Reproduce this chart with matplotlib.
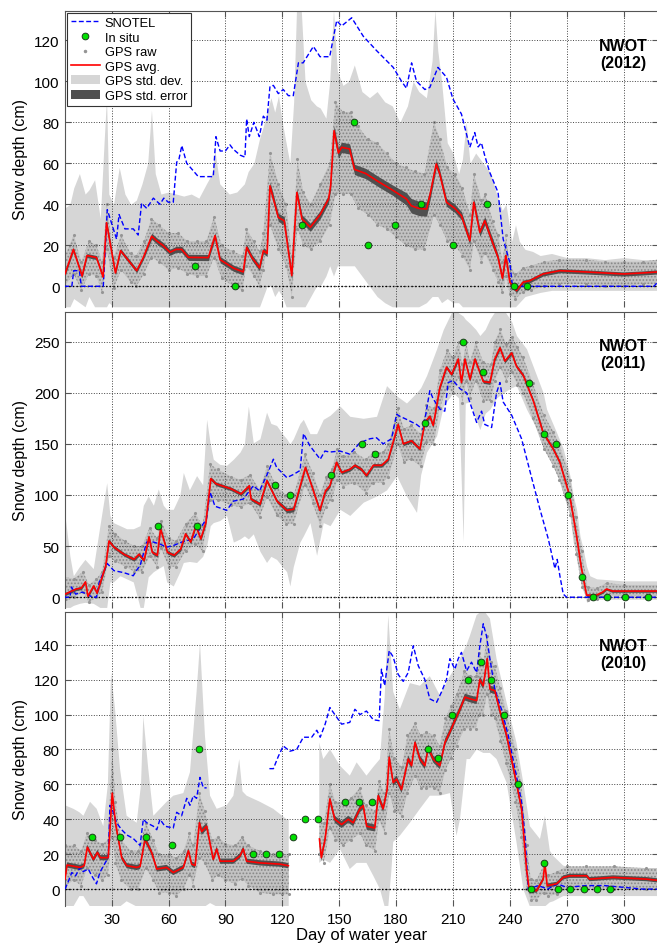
import numpy as np
import matplotlib
matplotlib.use("Agg")
import matplotlib.pyplot as plt
from matplotlib.lines import Line2D
from matplotlib.patches import Patch

nan = np.nan
plt.rcParams['font.family'] = ['Liberation Sans', 'DejaVu Sans']
plt.rcParams['hatch.linewidth'] = 0.8

# ---------------- 2012 ----------------
snotel_12 = [(5, 0), (9, 0), (10, 7.6), (13, 7.6), (14, 0), (25.6, 0), (27.7, 37.4), (32.6, 23), (33.9, 35),
             (37, 28), (41.4, 28), (44, 25), (45.8, 40.5), (48.5, 38), (52, 43), (55.5, 40), (57.5, 43),
             (59.9, 41), (62.5, 41), (64.3, 60.5), (65.5, 62), (67, 68.6), (69.6, 60), (71.5, 58),
             (75.7, 53.5), (83.6, 53.5), (85, 73), (87.2, 66), (90, 66), (92.4, 69), (94, 67), (97.7, 64),
             (100.3, 63), (101.2, 81.6), (102.6, 73), (105, 80), (107.9, 73), (110, 83), (111.9, 81),
             (113.5, 97.5), (115.3, 98), (117.9, 94), (120.5, 96), (123.2, 93), (125.8, 93), (128.5, 109),
             (131, 109), (136.4, 117), (139.9, 112), (145, 112), (148.7, 129.6), (151.3, 127), (156.6, 131),
             (162.7, 122), (169.7, 115), (178.5, 106.8), (182.9, 100), (185.5, 96.6), (188.2, 109),
             (190.8, 100), (195.2, 96), (197.8, 97), (202.1, 106.8), (206.6, 102), (210, 91.4), (214.5, 84),
             (218.9, 67.8), (221.5, 75), (223.3, 68), (225, 70), (226.8, 63.7), (229.4, 55.6), (233.8, 45.8),
             (236.5, 23), (240, 11.7), (241.4, 0), (316, 0), (318, 2)]
avg_12 = [(5.4, 6, 1), (9.8, 18, 1), (14.4, 5, 1), (17, 15, 1), (22, 14, 1), (25.5, 4.5, 1), (27.3, 31, 1.5),
          (32, 6.5, 1), (34.7, 17.4, 1), (43.2, 7.6, 1), (46.7, 14, 1), (51.1, 24.4, 1.5), (54, 22, 1.5),
          (57, 20, 1.5), (60.8, 16.6, 1.5), (64, 18, 1.5), (66.9, 18, 1.5), (70.5, 14.1, 1.5), (81, 14, 1.5),
          (84.5, 24.7, 1.5), (87.2, 13, 1.5), (94.3, 8.8, 1.5), (99.4, 7, 1.5), (101.2, 19, 1.5), (104, 14, 1.5),
          (108, 9, 1.5), (110, 17.4, 1.5), (112, 16, 1.5), (113.5, 49, 2), (117.9, 33.6, 2), (121, 32, 2),
          (125, 5.2, 2), (127.7, 45.8, 2), (130.4, 32.8, 2), (134.8, 28.8, 2), (140, 35, 2),
          (144.4, 42.6, 2), (145.5, 49, 2), (147.3, 75.9, 2.5), (149.6, 65, 2.5), (151.3, 67.8, 2.5),
          (155.5, 67, 2.5), (158.1, 57, 2.5), (164, 55, 2.5), (171.3, 50.7, 2.5), (178, 47, 2.5),
          (185.5, 42.6, 3), (188, 39.3, 3.5), (192, 38, 3.5), (196.1, 37.7, 3.5), (198, 45, 2.5),
          (201.2, 59.7, 2), (203, 55, 2), (206.6, 41, 2), (211, 38, 2), (214.5, 34.4, 2), (218.9, 22.2, 2),
          (221, 41, 2), (224.2, 26.3, 2), (226.8, 32, 2), (231.2, 20.6, 2), (233.8, 14, 1.5), (236.1, 3.9, 1.5),
          (237.9, 15, 1.5), (240, 2, 1.5), (243.5, -2.1, 1), (247, 2, 1), (250.5, 2.7, 1), (257.5, 6, 1),
          (266.3, 7.6, 1), (280, 7, 1), (290, 6.5, 1), (300, 6, 1), (310, 6.5, 1), (318, 7, 1)]
sd_12 = [(5, -10, 38), (8, -10, 40), (10, -6, 48), (13, -8, 55), (16, -10, 45), (18, -5, 47), (21, -10, 52),
         (24, -10, 33), (26, -10, 70), (27.3, -10, 92), (28.5, -8, 45), (31, -10, 40), (34, -10, 58),
         (37, -10, 45), (40, -10, 40), (43, -10, 42), (46, -10, 50), (49, -10, 60), (51, -10, 86), (53, -10, 55),
         (56, -10, 45), (60, -10, 46), (64, -10, 45), (68, -10, 44), (72, -10, 45), (76, -10, 43), (80, -10, 50),
         (83, -10, 55), (84.5, -10, 66), (87, -10, 50), (92, -10, 45), (96, -10, 46), (100, -10, 50),
         (102, -10, 56), (105, -10, 60), (108, -10, 72), (110, -5, 78), (112, 0, 85), (114, 0, 92),
         (116, -5, 85), (118, -2, 93), (120, -5, 80), (122, -10, 70), (124, -10, 60), (126, -10, 90),
         (127.5, -10, 135), (130, -10, 135), (132, -10, 100), (135, -5, 91), (138, 0, 88), (140, 0, 87),
         (143, 5, 82), (145, 10, 100), (147, 5, 135), (149, 10, 105), (152, 10, 98), (155, 10, 100),
         (158, 10, 108), (162, 5, 95), (166, 0, 92), (170, -5, 95), (174, -8, 90), (178, -10, 88),
         (182, -10, 80), (186, -10, 88), (189, -10, 100), (192, -10, 95), (196, -8, 92), (199, -5, 110),
         (200.5, -5, 135), (202, -5, 115), (204, -8, 100), (207, -6, 70), (210, -8, 65), (213, -8, 55),
         (215, -10, 62), (217, -10, 80), (219, -10, 60), (222, -10, 65), (226, -10, 60), (230, -10, 55),
         (233, -10, 45), (236, -10, 37), (238, -10, 40), (241, -10, 22), (243, -10, 30), (245, -8, 22),
         (248, -5, 18), (252, -4, 17), (256, -3, 15), (262, -2, 16), (270, -2, 14), (280, -2, 14),
         (290, -2, 13), (300, -2, 14), (310, -2, 13), (318, -2, 13)]
raw_12 = [(5, 0, 14), (10, 6, 25), (14, -2, 12), (18, 6, 22), (22, 5, 20), (25, -3, 12), (27.5, 18, 40),
          (31, -1, 14), (35, 8, 25), (40, 2, 16), (43, 0, 15), (47, 6, 22), (51, 14, 33), (55, 12, 30),
          (60, 8, 26), (65, 9, 26), (70, 6, 22), (75, 5, 22), (80, 5, 22), (84, 14, 34), (88, 4, 20),
          (94, 0, 17), (99, -2, 15), (101, 10, 28), (105, 5, 22), (108, 0, 17), (110, 8, 26), (113.5, 30, 65),
          (118, 18, 50), (122, 10, 40), (125, -5, 15), (128, 28, 62), (131, 20, 46), (135, 18, 40),
          (140, 22, 50), (145, 30, 60), (148, 45, 90), (152, 45, 85), (156, 45, 85), (160, 38, 78),
          (165, 35, 72), (170, 30, 70), (175, 28, 65), (180, 24, 60), (185, 20, 58), (190, 18, 56),
          (195, 18, 55), (200, 35, 80), (203, 30, 72), (207, 22, 58), (211, 20, 55), (215, 15, 48),
          (219, 8, 35), (221, 22, 55), (225, 12, 42), (227, 16, 45), (231, 8, 32), (234, 2, 25), (236, -3, 12),
          (238, 5, 25), (240, -4, 10), (243, -6, 6), (247, -3, 9), (251, -2, 10), (258, 0, 12), (266, 1, 13),
          (280, 1, 13), (290, 0, 12), (300, 0, 12), (310, 1, 12), (318, 1, 13)]
insitu_12 = [(74, 10), (95.3, 0), (130.4, 30), (158, 80), (165, 20), (179.4, 30), (193, 40), (210.3, 20),
             (228.2, 40), (242, 0), (249, 0)]

# ---------------- 2011 ----------------
snotel_11 = [(5, 0), (8, 0), (8.8, 10), (11, 3), (14.5, 5), (17, 3), (20, 0), (22, 0), (23.5, 15), (27.7, 33),
             (31.2, 26), (36.5, 24), (41.4, 21), (43, 26), (45, 31), (48.5, 54), (52, 54), (55.5, 52), (59, 49),
             (62.5, 50.5), (67, 54), (73, 57), (76.6, 67), (80, 76.6), (81.9, 103), (84.5, 89), (90.7, 85),
             (94.2, 94), (99.4, 96), (104.7, 109), (108, 104), (112, 120), (115.3, 135), (117, 127),
             (122.4, 117), (125.8, 120), (129.4, 124), (131.2, 160), (134.6, 148), (140, 135), (142.5, 143),
             (145, 142), (150.4, 143), (155.6, 140), (160.9, 151), (166.2, 155), (169.7, 156), (173.2, 150),
             (177.6, 155), (180.3, 179), (182, 177), (185.5, 174), (190.8, 169), (194.3, 164), (197.8, 202),
             (199.6, 194), (203.1, 184), (205.7, 182), (207.5, 210), (210.1, 212), (213.7, 204), (217.2, 200),
             (222.5, 171), (225.1, 182), (226.8, 169), (230.4, 166), (233, 200), (234.8, 210), (236.5, 191),
             (241, 178), (246.2, 155), (251.5, 117), (255.9, 86), (260.3, 57), (263.8, 28), (265, 37),
             (266.4, 21), (268.2, 3), (270, 0), (318, 0)]
avg_11 = [(5.4, 3, 1.5), (11.3, 8, 1.5), (14, 9, 1.5), (16.2, 15, 1.5), (17.5, 1, 1.5), (20.5, 11, 1.5),
          (22.3, 4, 1.5), (23.5, 11, 1.5), (26.9, 31, 1.8), (28.6, 55, 1.8), (31.2, 49, 1.8), (36.5, 42, 1.8),
          (41.8, 37, 1.8), (44.4, 42, 1.8), (47.1, 36, 1.8), (49.7, 59, 1.8), (51.4, 44, 1.8), (54.1, 41, 1.8),
          (55.8, 67, 1.8), (59.4, 44, 1.8), (62.9, 41, 1.8), (66.4, 47, 1.8), (69, 62, 1.8), (71.7, 54, 1.8),
          (74.4, 70, 1.8), (77, 57, 1.8), (79.7, 73, 1.8), (82.3, 116, 1.8), (85, 111, 1.8), (93, 106, 1.8),
          (98.2, 101, 1.8), (102.6, 109, 1.8), (103.5, 96, 1.8), (108.3, 91, 1.8), (111.9, 114, 1.8),
          (117.2, 94, 1.8), (122.4, 85, 2.5), (126, 86, 2.5), (132.2, 127, 1.8), (135.7, 108, 1.8),
          (139.8, 85, 1.8), (142.8, 104, 1.8), (145.1, 109, 1.8), (148.6, 132, 1.8), (151.3, 122, 1.8),
          (155.6, 125, 1.8), (158.3, 129, 1.8), (161.8, 125, 1.8), (164.4, 119, 1.8), (168, 129, 1.8),
          (172.4, 129, 1.8), (175.9, 135, 1.8), (181.1, 169, 1.8), (183.8, 150, 1.8), (188.2, 153, 1.8),
          (192.6, 145, 1.8), (195.2, 171, 1.8), (197.8, 177, 1.8), (199.6, 168, 1.8), (203.1, 205, 1.8),
          (206.6, 225, 1.8), (209.3, 218, 1.8), (212.8, 233, 1.8), (214.5, 210, 1.8), (216.3, 233, 1.8),
          (219, 213, 1.8), (221.6, 233, 1.8), (226, 211, 1.8), (229.5, 210, 1.8), (232.1, 233, 1.8),
          (234.8, 244, 1.8), (237.4, 231, 1.8), (241, 239, 1.8), (243.5, 226, 1.8), (247.1, 217, 1.8),
          (252.4, 192, 1.8), (257.6, 161, 1.8), (262.9, 145, 1.8), (266.4, 132, 1.8), (271.7, 98, 1.8),
          (275.2, 60, 1.8), (277.8, 28, 1.5), (280.5, 2, 1.2), (285.7, 2, 1.2), (289, 5, 1.2), (291, 8, 1.2),
          (294, 6, 1.2), (318, 6, 1.2)]
sd_11 = [(5.4, -10, 80), (8, -10, 40), (9.8, -8, 21), (13, -6, 30), (15.9, -5, 37), (20.3, -6, 28),
         (23.8, -10, 70), (27.4, -10, 112), (29.1, 15, 80), (30.9, 15, 73), (34.4, 21, 70), (37.9, 18, 67),
         (41.4, 15, 67), (45, -10, 70), (46.7, -10, 90), (49.3, 20, 99), (52, 25, 90), (54.6, 28, 106),
         (57.2, 31, 90), (59, 15, 86), (62.5, 11, 86), (66, 25, 100), (67.8, 34, 122), (71, 35, 105),
         (74.8, 34, 119), (78, 40, 110), (80.1, 50, 174), (82, 70, 150), (83.6, 73, 135), (87, 75, 130),
         (90.6, 80, 129), (94.2, 54, 135), (97.7, 57, 142), (100, 60, 150), (102.1, 57, 187), (104.7, 62, 151),
         (108.2, 45, 155), (111.7, 34, 181), (114, 40, 170), (117, 37, 168), (120, 30, 160), (122.3, 25, 155),
         (124, 11, 150), (125.8, 30, 155), (129.3, 54, 170), (131.1, 60, 174), (134.6, 73, 160),
         (138.1, 41, 160), (141.6, 73, 174), (145.2, 70, 178), (150.4, 86, 187), (155.6, 80, 177),
         (162.7, 93, 175), (169.7, 99, 177), (175, 105, 207), (180.3, 119, 197), (185.5, 99, 190),
         (190.8, 83, 200), (193, 120, 205), (196.1, 142, 217), (201.4, 158, 243), (204.9, 187, 262),
         (210.1, 200, 282), (213, 195, 278), (215.4, 54, 275), (216.5, 190, 272), (218.9, 191, 268),
         (222, 175, 262), (224.2, 164, 256), (227, 180, 262), (229.5, 184, 272), (233, 195, 282),
         (236.5, 200, 282), (240.9, 205, 270), (243.5, 207, 256), (248.8, 184, 243), (254.1, 165, 217),
         (257.6, 151, 200), (259.4, 145, 184), (264.7, 132, 161), (268.2, 110, 145), (269.9, 93, 132),
         (271.7, 80, 119), (273.4, 54, 100), (275.2, 40, 86), (277, 21, 60), (278.7, 10, 47), (280.5, -5, 30),
         (282.2, -3, 21), (285.8, -2, 18), (300, -2, 16), (318, -2, 16)]
raw_11 = [(5, -5, 20), (10, 0, 18), (15, 5, 25), (18, -5, 12), (22, 0, 18), (25, 5, 25), (28.6, 40, 70),
          (32, 35, 62), (37, 30, 55), (42, 25, 50), (46, 25, 50), (50, 40, 68), (54, 30, 58), (56, 48, 75),
          (60, 30, 58), (64, 30, 55), (69, 45, 72), (74, 52, 82), (78, 45, 70), (82, 95, 130), (86, 95, 125),
          (93, 90, 118), (98, 88, 115), (103, 92, 120), (108, 78, 105), (112, 98, 128), (117, 80, 108),
          (122, 72, 100), (126, 72, 100), (132, 110, 140), (136, 92, 122), (140, 70, 100), (143, 88, 118),
          (146, 95, 125), (149, 115, 145), (152, 108, 138), (158, 112, 142), (164, 102, 135), (168, 112, 142),
          (173, 112, 142), (176, 118, 150), (181, 150, 185), (184, 132, 165), (188, 135, 168), (193, 128, 160),
          (196, 152, 188), (200, 150, 185), (203, 185, 222), (207, 205, 242), (210, 200, 235), (213, 215, 250),
          (215, 190, 228), (217, 212, 250), (219, 195, 230), (222, 212, 250), (226, 192, 230), (230, 192, 228),
          (232, 212, 250), (235, 225, 262), (238, 212, 248), (241, 220, 255), (244, 208, 245), (247, 200, 235),
          (252, 175, 210), (258, 145, 178), (263, 128, 162), (266, 115, 150), (272, 80, 115), (275, 42, 78),
          (278, 10, 45), (281, -3, 10), (286, -2, 9), (291, 2, 14), (300, 1, 12), (318, 1, 12)]
insitu_11 = [(54.3, 70), (75.2, 70), (116.1, 110), (124, 100), (145.5, 120), (162.2, 150), (168.8, 140),
             (195.2, 170), (215.1, 250), (226, 220), (250, 210), (258.1, 160), (264.1, 150), (270.8, 100),
             (278.2, 20), (284, 0), (291, 0), (300.9, 0), (313, 0)]

# ---------------- 2010 ----------------
snotel_10 = [(5.4, 0), (7, 4), (9, 9.5), (11, 7.6), (13.3, 12.4), (15, 10), (17.7, 11.5), (19.5, 7.6), (22, 3),
             (23.8, 9.5), (25.5, 13), (28.2, 18), (29.1, 48), (30.9, 44), (32.6, 38), (35.3, 34), (38, 31),
             (41.4, 29), (45, 25), (46.7, 40), (48.5, 38), (52, 36), (53.8, 34), (55.5, 40), (58.1, 36),
             (62.5, 35), (64.3, 44), (66.9, 42), (69.6, 52), (71.3, 48), (73.1, 53.5), (74.8, 52), (76.6, 64),
             (78.4, 58), (80.1, 58), (96, nan), (113.2, 69), (115.3, 69), (117.9, 76), (120.5, 82), (124, 79),
             (127.6, 80), (131.1, 87), (135.5, 87), (138.2, 91), (140, 87), (142.6, 94.5), (145.1, 104),
             (147.7, 100), (151.3, 94.5), (155.6, 95.5), (158.3, 103), (161, 100), (164.4, 102), (168, 97),
             (171.1, 96.5), (172.3, 126), (174, 116.5), (176.4, 136.6), (178.5, 133), (181.1, 123),
             (183.8, 119), (186.4, 124), (189.1, 139.4), (191.7, 128), (195.2, 120), (197.8, 109), (201.4, 107),
             (204, 113), (206.6, 120), (208.4, 132), (211, 126), (212.8, 132), (214.5, 135.6), (217.2, 125),
             (219.8, 130), (222.5, 124), (224.2, 139.4), (226, 152), (227.7, 145), (229.5, 132), (232.1, 114.6),
             (235.6, 103), (239.2, 88), (242.7, 69), (246.2, 50), (248, 30.6), (249.7, 0), (255, 2), (260, 0),
             (265, 3), (270, 1), (280, 2), (290, 2), (300, 1), (310, 0), (318, 0)]
avg_10 = [(5.4, 5.7, 1.5), (6.5, 13.8, 1.5), (13.3, 12.4, 1.5), (15.5, 13.4, 1.5), (17.2, 24, 1.5),
          (20.4, 17, 1.5), (22.5, 21, 1.5), (24, 18, 1.5), (28.2, 18, 1.5), (30.3, 55, 2.5), (32, 38, 2),
          (35.3, 18, 1.5), (38, 13.4, 1.5), (43.2, 12.4, 1.5), (45, 13, 1.5), (47.6, 28.7, 2), (51.1, 21, 1.5),
          (53.8, 11.5, 1.5), (59, 12.4, 1.5), (62.5, 9.5, 1.5), (67.8, 12.4, 1.5), (70.5, 22, 1.5),
          (72.2, 14.3, 1.5), (74, 13.5, 1.5), (76.3, 38, 2.5), (77.5, 33, 2), (80.1, 36, 2), (83.6, 17, 1.5),
          (85.4, 23, 1.5), (87.2, 16, 1.5), (94.2, 16, 1.5), (97.7, 19, 1.5), (99.4, 23, 1.5), (101.2, 16, 1.5),
          (108.3, 15, 1.5), (118.8, 14.3, 1.5), (123.2, 13.4, 1.5), (124, nan, nan), (139.6, 28.7, 2),
          (140.6, 18, 2), (142.6, 28.7, 2), (145.1, 51.6, 2), (147.7, 40, 2), (151.3, 37, 2), (154.8, 40, 2),
          (157.4, 38, 2), (160.9, 46, 2), (162.7, 47.8, 2), (164.5, 36, 2), (168.8, 35, 2), (170.6, 53.5, 2),
          (173.2, 46, 2), (175.3, 57, 2), (176.4, 75.5, 2.5), (178.5, 61, 2), (180.3, 63, 2), (182.9, 57, 2),
          (186.4, 74.5, 2), (188.2, 70.7, 2), (190, 84, 2), (192.6, 74.5, 2), (195.2, 70.7, 2), (197, 81, 2),
          (199.6, 74.5, 2), (203.1, 70.7, 2), (205.8, 84, 2), (208.4, 90, 2), (211, 96.5, 2), (213.7, 103, 2),
          (216.3, 110, 2), (219, 109, 2), (222.5, 108, 2), (224.2, 120, 2), (226, 116.5, 2), (228.1, 132, 2),
          (229.5, 114.6, 2), (232.1, 113.7, 2), (234.8, 102, 2), (238.3, 88, 2), (242.7, 65, 2), (246.2, 46, 2),
          (248.8, 11.5, 1.5), (250.2, 0, 1.5), (254.1, -1, 1.2), (257.6, 5.7, 1.2), (258.5, 15, 1.2),
          (259.7, 2, 1.2), (264.7, 3, 1.2), (268.2, 6.7, 1.2), (271.7, 7.6, 1.2), (280.5, 7.6, 1.2),
          (282, 5.7, 1.2), (294.5, 6.7, 1.2), (312.1, 5.7, 1.2), (318, 5, 1.2)]
sd_10 = [(5.4, -10, 48), (9.8, -10, 46), (13, -4, 44), (15.1, -4, 42), (18.6, -10, 50), (22.1, -10, 46),
         (25.6, -10, 36), (28, -10, 60), (29.7, -10, 124), (31.8, -10, 103), (34.4, -10, 69), (37.9, -7, 42),
         (43.2, -10, 38), (45.5, -10, 60), (46.7, -10, 99), (49.3, -10, 69), (52, -10, 42), (55.5, -10, 46),
         (59, -10, 50), (62.5, -10, 53.5), (67.8, -10, 55), (71.3, -10, 67), (74.8, -10, 113), (76.6, -10, 141),
         (79.2, -10, 88), (81.9, -8, 53.5), (85.4, -10, 46), (90.6, -10, 48), (94.2, -10, 53.5),
         (97.3, -10, 74.5), (99, -10, 56), (101.2, -10, 53.5), (108.2, -10, 50), (115.2, -10, 46),
         (122.3, -10, 40), (123.4, -10, 40), (124, nan, nan), (139.5, 15, 84), (141.6, 17, 74.5),
         (145.2, 15, 80), (150.4, 23, 70.7), (155.6, 11.5, 65), (159.2, 15, 72.6), (164.4, 15, 65),
         (168, 7.6, 70), (171.5, 0, 74.5), (174, -10, 110), (175.9, -10, 157), (177.5, 10, 130),
         (178.5, 27, 113), (182, 30.6, 103), (187.3, 38, 118), (192.6, 46, 116.5), (197.8, 53.5, 122),
         (203.1, 53.5, 111), (208.4, 55, 122), (211.9, 30.6, 128), (213.7, 40, 132), (217.2, 74.5, 140),
         (218.9, 74.5, 145), (222.5, 80, 157), (226, 78, 160), (229.5, 78, 155), (233, 74.5, 132),
         (238.3, 61, 107), (243.5, 27, 84), (247.1, 0, 61), (250.6, -10, 36), (255.9, -10, 28.7),
         (258.5, -10, 42), (261.1, -7.6, 22), (262.9, -7, 19), (268.2, -4, 13.4), (277, -4, 11.5),
         (294.5, -4, 13), (312.1, -4, 11.5), (318, -4, 11.5)]
raw_10 = [(5.4, 2, 25), (10, 5, 25), (14, 2, 22), (17, 12, 32), (21, 8, 28), (25, 5, 26), (28, 8, 28),
          (30.3, 30, 80), (32, 15, 50), (35, 5, 28), (40, 0, 22), (44, 0, 22), (48, 12, 38), (52, 5, 28),
          (55, -2, 20), (60, -2, 20), (64, -4, 18), (68, 0, 22), (71, 8, 32), (73, 2, 25), (76.3, 18, 55),
          (79, 15, 45), (83, 5, 28), (86, 8, 30), (90, 5, 26), (95, 3, 25), (99, 6, 30), (102, 2, 25),
          (108, -2, 22), (115, -3, 20), (120, -3, 20), (123.4, -3, 20), (124, nan, nan), (139.6, 20, 40),
          (142, 15, 38), (145, 35, 60), (148, 28, 50), (152, 25, 50), (156, 28, 52), (161, 32, 58),
          (164, 25, 48), (169, 22, 45), (171, 40, 62), (174, 32, 55), (176.4, 55, 92), (179, 45, 75),
          (183, 42, 70), (186, 55, 88), (190, 65, 95), (193, 58, 88), (196, 58, 90), (200, 58, 88),
          (203, 55, 82), (206, 68, 98), (209, 75, 105), (212, 82, 112), (216, 92, 125), (219, 92, 122),
          (222, 92, 122), (224, 100, 135), (226, 100, 130), (228, 112, 145), (230, 100, 130), (232, 98, 128),
          (235, 85, 115), (238, 72, 102), (243, 50, 80), (246, 30, 60), (249, 0, 25), (251, -6, 6),
          (254, -6, 5), (258, -2, 14), (260, -4, 8), (265, -3, 10), (270, 0, 13), (280, 0, 13), (295, 0, 13),
          (312, 0, 12), (318, 0, 12)]
insitu_10 = [(19.9, 30), (34.3, 30), (48, 30), (61.9, 25), (76.3, 80), (104.3, 20), (111.3, 20), (118.5, 20),
             (125.4, 30), (132, 40), (139, 40), (153, 50), (160.4, 50), (167.1, 50), (197, 80), (201.9, 75),
             (209.3, 100), (218.1, 120), (224.7, 130), (230, 120), (237, 100), (244.1, 60), (251.1, 0),
             (258.2, 15), (265.2, 0), (272, 0), (279.1, 0), (286.1, 0), (292.8, 0)]

years = ['2012', '2011', '2010']
ylims = [(-10.1, 134.3), (-10.5, 279.3), (-9.7, 158.9)]
ysteps = [20, 50, 20]
ytop = [120, 250, 140]
xticks = np.arange(30, 301, 30)


def cols(data):
    return np.array(data, dtype=float).T


def drawPanel(ax, snotel, avg, sd, raw, insitu, year, ylim, ystep, ymax):
    sd_d, sd_lo, sd_hi = cols(sd)
    ax.fill_between(sd_d, sd_lo, sd_hi, color='#d6d6d6', lw=0, zorder=1)
    raw_d, raw_lo, raw_hi = cols(raw)
    ax.fill_between(raw_d, raw_lo, raw_hi, facecolor='#c2c2c2', edgecolor='#878787', hatch='.....',
                    lw=0, zorder=1.2)
    ax.plot(raw_d, raw_lo, '.', color='#959595', ms=2.5, zorder=1.3)
    ax.plot(raw_d, raw_hi, '.', color='#959595', ms=2.5, zorder=1.3)
    av_d, av_v, av_se = cols(avg)
    ax.fill_between(av_d, av_v - av_se, av_v + av_se, color='#505050', lw=0, zorder=1.5)
    ax.axhline(0, color='k', ls=':', lw=1.0, zorder=2.6)
    sn_d, sn_v = cols(snotel)
    ax.plot(sn_d, sn_v, color='#0000ff', lw=1.0, dashes=(3.5, 1.8), zorder=3)
    ax.plot(av_d, av_v, color='#ff0000', lw=1.2, zorder=3.2)
    is_d, is_v = cols(insitu)
    ax.plot(is_d, is_v, 'o', color='#00e000', mec='#1c3c1c', mew=0.7, ms=4.8, zorder=4)

    ax.set_xlim(5.4, 318)
    ax.set_ylim(*ylim)
    ax.set_yticks(np.arange(0, ymax + 1, ystep))
    ax.set_xticks(xticks)
    ax.set_axisbelow(False)
    ax.grid(True, ls=':', color='#444444', lw=0.7)
    ax.tick_params(direction='in', length=4, top=True, right=True, labelsize=11, pad=4,
                   color='#555555')
    for s in ['top', 'left', 'right']:
        ax.spines[s].set_color('#555555')
        ax.spines[s].set_linewidth(0.8)
    ax.spines['bottom'].set_visible(False)
    ax.set_ylabel('Snow depth (cm)', fontsize=11.5, labelpad=4)
    ax.text(0.9415, 0.856, 'NWOT\n(' + year + ')', transform=ax.transAxes, ha='center', va='center',
            fontsize=11.5, fontweight='bold', linespacing=1.15, zorder=5)


fig = plt.figure(figsize=(6.57, 9.45), dpi=100)
boxes = [(0.6741, 0.3132), (0.3556, 0.3135), (0.0402, 0.3114)]
panels = [(snotel_12, avg_12, sd_12, raw_12, insitu_12),
          (snotel_11, avg_11, sd_11, raw_11, insitu_11),
          (snotel_10, avg_10, sd_10, raw_10, insitu_10)]
axes = []
for i, (b, h) in enumerate(boxes):
    ax = fig.add_axes([65 / 657, b, 592.7 / 657, h])
    drawPanel(ax, *panels[i], years[i], ylims[i], ysteps[i], ytop[i])
    axes.append(ax)
    if i < 2:
        ax.set_xticklabels([])

axes[2].set_xlabel('Day of water year', fontsize=12, labelpad=1)

handles = [Line2D([], [], color='#0000ff', lw=1.0, dashes=(3.5, 1.8)),
           Line2D([], [], ls='none', marker='o', color='#00e000', mec='#1c3c1c', mew=0.7, ms=4.8),
           Line2D([], [], ls='none', marker='.', color='#959595', ms=3),
           Line2D([], [], color='#ff0000', lw=1.2),
           Patch(facecolor='#d6d6d6', edgecolor='none'),
           Patch(facecolor='#505050', edgecolor='none')]
labels = ['SNOTEL', 'In situ', 'GPS raw', 'GPS avg.', 'GPS std. dev.', 'GPS std. error']
leg = axes[0].legend(handles, labels, loc='upper left', bbox_to_anchor=(0.004, 0.993), fontsize=9.3,
                     frameon=True, fancybox=False, edgecolor='#333333', framealpha=1, borderpad=0.3,
                     labelspacing=0.2, handlelength=2.2, handletextpad=0.4, borderaxespad=0)
leg.get_frame().set_linewidth(0.8)
leg.set_zorder(6)

fig.savefig('out.png', dpi=100)
